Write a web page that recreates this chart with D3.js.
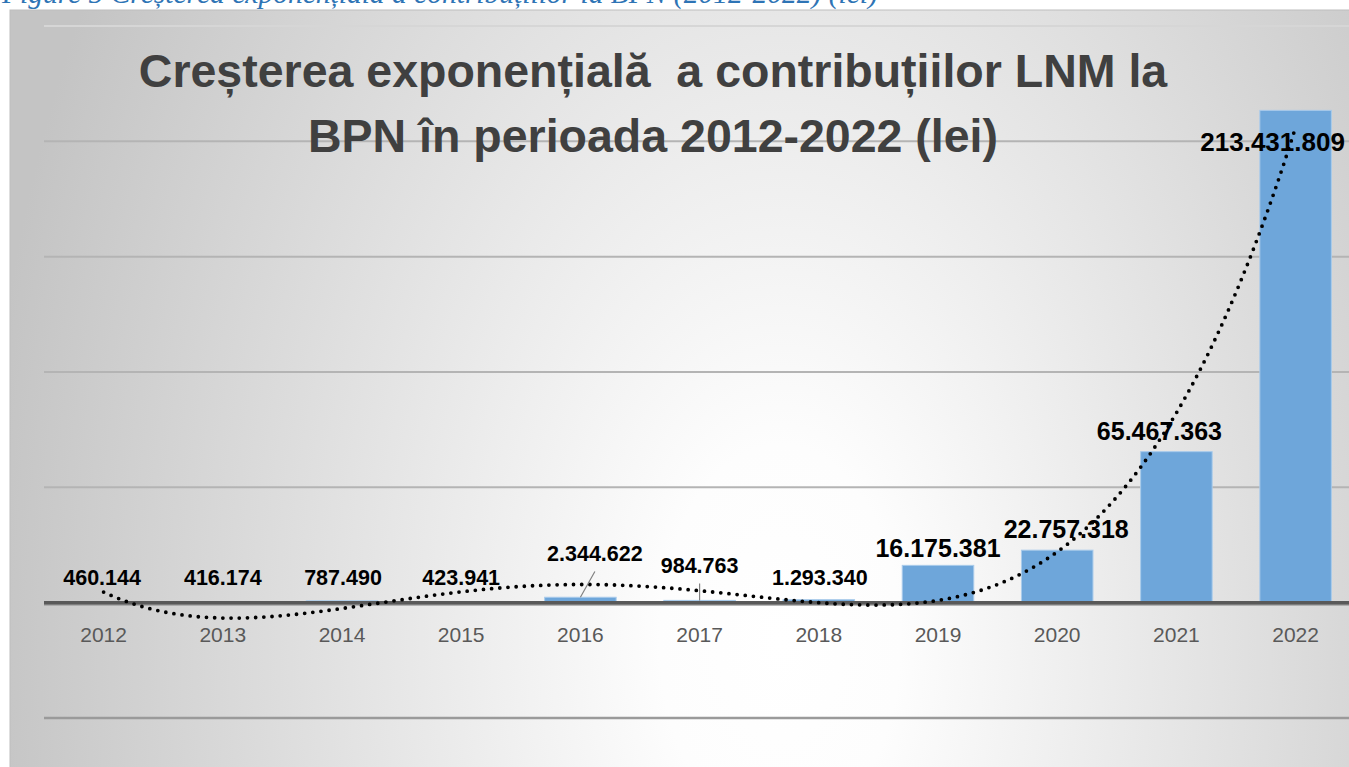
<!DOCTYPE html>
<html>
<head>
<meta charset="utf-8">
<script src="https://cdn.jsdelivr.net/npm/d3@7.9.0/dist/d3.min.js"></script>
<style>
  html, body { margin: 0; padding: 0; background: #ffffff; overflow: hidden; }
  svg { display: block; }
  text { white-space: pre; }
</style>
</head>
<body>
<svg id="chart" width="1349" height="767"></svg>
<script>
// data
const years = ['2012', '2013', '2014', '2015', '2016', '2017', '2018', '2019', '2020', '2021', '2022'];
const contributions = [460144, 416174, 787490, 423941, 2344622, 984763, 1293340, 16175381, 22757318, 65467363, 213431809];
const gridTicks = [-50e6, 0, 50e6, 100e6, 150e6, 200e6, 250e6];
const titleLines = ['Creșterea exponențială  a contribuțiilor LNM la', 'BPN în perioada 2012-2022 (lei)'];
const caption = 'Figure 5 Creșterea exponențială a contribuțiilor la BPN (2012-2022) (lei)';

// label nudges (dx, dy from bar top), as placed by hand in the original
const labelShift = [[-1.5, -16.6], [0, -16.7], [1, -16], [0, -16.7], [14.5, -36.3], [0, -27.4],
                    [1, -14.7], [0, -8.3], [9, -12], [-17, -11.5], [-23, 40.5]];
const withLeader = ['2016', '2017'];
const trendOrder = 4;

const svg = d3.select('#chart');
const W = 1349, H = 767;

const ro = d3.formatLocale({ decimal: ',', thousands: '.', grouping: [3], currency: ['', ''] });
const fmt = ro.format(',d');

// background gradient
const defs = svg.append('defs');
const grad = defs.append('radialGradient')
    .attr('id', 'bg')
    .attr('gradientUnits', 'userSpaceOnUse')
    .attr('cx', 0).attr('cy', 0).attr('r', 1)
    .attr('gradientTransform', 'translate(780,640) scale(800,1300)');
grad.append('stop').attr('offset', 0).attr('stop-color', '#ffffff');
grad.append('stop').attr('offset', 0.15).attr('stop-color', '#fdfdfd');
grad.append('stop').attr('offset', 1).attr('stop-color', '#c4c4c4');

svg.append('rect').attr('x', 10).attr('y', 10).attr('width', W).attr('height', H)
    .attr('fill', 'url(#bg)').attr('stroke', '#bdbdbd').attr('stroke-width', 1);

// caption of the figure, cut by the top edge like in the source
svg.append('text')
    .attr('x', 2).attr('y', 3)
    .attr('font-family', '"Liberation Serif", "DejaVu Serif", serif')
    .attr('font-style', 'italic')
    .attr('font-size', 29.5)
    .attr('fill', '#2e74b5')
    .text(caption);

// scales
const x = d3.scaleBand().domain(years).range([44, 44 + 11 * 119.2]).paddingInner(0.4).paddingOuter(0.2);
const y = d3.scaleLinear().domain([-50e6, 250e6]).range([718, 26]);

// gridlines
svg.append('g').selectAll('line')
    .data(gridTicks.filter(d => d !== 0))
    .join('line')
    .attr('x1', 44).attr('x2', W)
    .attr('y1', d => y(d)).attr('y2', d => y(d))
    .attr('stroke', d => d === 250e6 ? '#d6d6d6' : (d < 0 ? '#9a9a9a' : '#b4b4b4'))
    .attr('stroke-width', d => d < 0 ? 2.5 : 2);

// bars
svg.append('g').selectAll('rect')
    .data(years)
    .join('rect')
    .attr('x', d => x(d))
    .attr('width', x.bandwidth())
    .attr('y', (d, i) => y(contributions[i]))
    .attr('height', (d, i) => y(0) - y(contributions[i]))
    .attr('fill', '#6ea6da')
    .attr('stroke', '#a9cbeb')
    .attr('stroke-width', 1);

// zero axis
svg.append('line')
    .attr('x1', 44).attr('x2', W)
    .attr('y1', y(0) + 1).attr('y2', y(0) + 1)
    .attr('stroke', '#a0a0a0').attr('stroke-width', 4);
svg.append('line')
    .attr('x1', 44).attr('x2', W)
    .attr('y1', y(0)).attr('y2', y(0))
    .attr('stroke', '#595959').attr('stroke-width', 3.5);

// category labels
svg.append('g').selectAll('text')
    .data(years)
    .join('text')
    .attr('x', d => x(d) + x.bandwidth() / 2)
    .attr('y', 642)
    .attr('text-anchor', 'middle')
    .attr('font-family', '"Liberation Sans", Arial, sans-serif')
    .attr('font-size', 21)
    .attr('fill', '#595959')
    .text(d => d);

// polynomial trendline (least squares, x = 1..n as the spreadsheet does)
function polyFit(xs, ys, order) {
    const n = order + 1;
    const A = Array.from({ length: n }, () => new Array(n + 1).fill(0));
    xs.forEach((xv, k) => {
        const t = (xv - 6) / 5;
        for (let r = 0; r < n; r++) {
            for (let c = 0; c < n; c++) A[r][c] += Math.pow(t, r + c);
            A[r][n] += ys[k] * Math.pow(t, r);
        }
    });
    for (let i = 0; i < n; i++) {
        let p = i;
        for (let r = i + 1; r < n; r++) if (Math.abs(A[r][i]) > Math.abs(A[p][i])) p = r;
        [A[i], A[p]] = [A[p], A[i]];
        for (let r = 0; r < n; r++) {
            if (r === i) continue;
            const f = A[r][i] / A[i][i];
            for (let c = i; c <= n; c++) A[r][c] -= f * A[i][c];
        }
    }
    const coef = A.map((row, i) => row[n] / row[i]);
    return xv => coef.reduce((s, c, i) => s + c * Math.pow((xv - 6) / 5, i), 0);
}

const idx = years.map((d, i) => i + 1);
const step = x.step();
const x0 = x(years[0]) + x.bandwidth() / 2;
const trend = polyFit(idx, contributions, trendOrder);

svg.append('path')
    .datum(d3.range(1, 11.0001, 0.05))
    .attr('fill', 'none')
    .attr('stroke', '#000')
    .attr('stroke-width', 3.8)
    .attr('stroke-linecap', 'round')
    .attr('stroke-dasharray', '0 8.2')
    .attr('d', d3.line().x(t => x0 + (t - 1) * step).y(t => y(trend(t))));

// data labels
const labelG = svg.append('g');
years.forEach((yr, i) => {
    const v = contributions[i];
    const cx = x(yr) + x.bandwidth() / 2;
    const lx = cx + labelShift[i][0];
    const ly = y(v) + labelShift[i][1];
    const big = v >= 10e6;
    if (withLeader.includes(yr)) {
        labelG.append('line')
            .attr('x1', cx).attr('y1', y(v))
            .attr('x2', lx).attr('y2', ly + 10.5)
            .attr('stroke', '#808080').attr('stroke-width', 1.2);
    }
    labelG.append('text')
        .attr('x', lx).attr('y', ly)
        .attr('text-anchor', 'middle')
        .attr('font-family', '"Liberation Sans", Arial, sans-serif')
        .attr('font-weight', 'bold')
        .attr('font-size', big ? (v > 100e6 ? 26 : 25) : 21.5)
        .attr('fill', '#000')
        .text(fmt(v));
});

// title
svg.append('text')
    .attr('text-anchor', 'middle')
    .attr('font-family', '"Liberation Sans", Arial, sans-serif')
    .attr('font-weight', 'bold')
    .attr('font-size', 46.5)
    .attr('fill', '#404040')
    .selectAll('tspan')
    .data(titleLines)
    .join('tspan')
    .attr('x', 653)
    .attr('y', (d, i) => 87 + i * 65)
    .text(d => d);
</script>
</body>
</html>
